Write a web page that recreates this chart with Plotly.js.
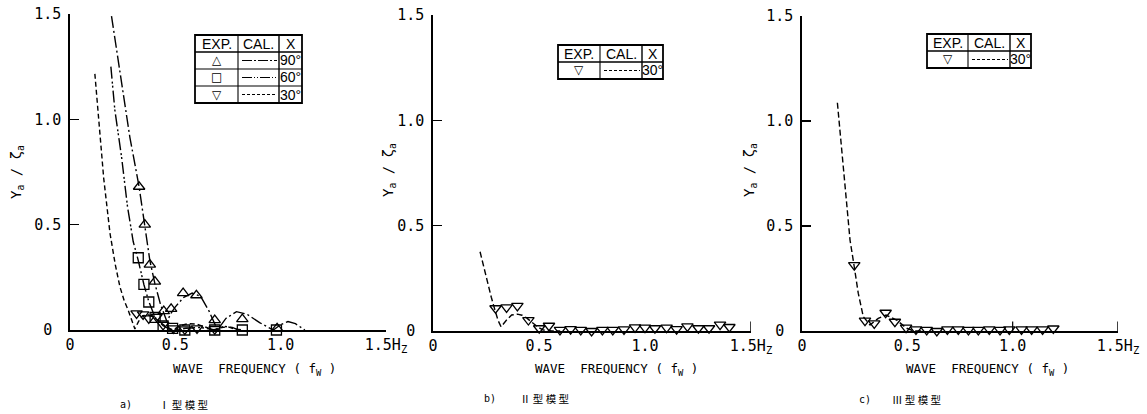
<!DOCTYPE html>
<html>
<head>
<meta charset="utf-8">
<script src="https://cdn.plot.ly/plotly-3.0.1.min.js"></script>
<style>
  html, body { margin: 0; padding: 0; background: #fff; }
  #chart { width: 1147px; height: 414px; }
</style>
</head>
<body>
<div id="chart"></div>
<script>
// ---- Type I model: measured response for three heading angles ----
const expA90X = [0.328, 0.355, 0.379, 0.403, 0.445, 0.480, 0.537, 0.600, 0.687, 0.818, 0.983];
const expA90Y = [0.68, 0.50, 0.31, 0.23, 0.09, 0.10, 0.175, 0.165, 0.047, 0.052, 0.008];
const expA60X = [0.324, 0.351, 0.374, 0.404, 0.442, 0.487, 0.545, 0.687, 0.818, 0.980];
const expA60Y = [0.343, 0.217, 0.133, 0.06, 0.019, 0.008, 0.0, 0.0, 0.0, 0.0];
const expA30X = [0.316, 0.347, 0.374, 0.411, 0.442, 0.490, 0.545, 0.603, 0.687];
const expA30Y = [0.079, 0.074, 0.055, 0.063, 0.024, 0.008, 0.003, 0.008, 0.004];

// ---- Type I model: calculated curves ----
const calA90X = [0.197, 0.225, 0.253, 0.284, 0.328, 0.355, 0.379, 0.403, 0.43, 0.46, 0.48, 0.50, 0.54, 0.58, 0.62, 0.66, 0.70, 0.74, 0.79, 0.84, 0.90, 0.965, 1.0, 1.035, 1.07, 1.115];
const calA90Y = [1.49, 1.30, 1.106, 0.916, 0.68, 0.50, 0.33, 0.22, 0.12, 0.04, 0.08, 0.11, 0.155, 0.175, 0.16, 0.09, 0.0, 0.055, 0.087, 0.075, 0.035, 0.0, 0.025, 0.04, 0.03, 0.0];
const calA60X = [0.194, 0.213, 0.245, 0.273, 0.300, 0.324, 0.351, 0.374, 0.404, 0.442, 0.47, 0.50, 0.55, 0.62, 0.69, 0.73, 0.77, 0.80];
const calA60Y = [1.25, 1.043, 0.82, 0.585, 0.42, 0.33, 0.215, 0.135, 0.06, 0.02, 0.005, 0.0, 0.008, 0.012, 0.0, 0.018, 0.012, 0.0];
const calA30X = [0.118, 0.13, 0.142, 0.16, 0.19, 0.215, 0.237, 0.257, 0.276, 0.293, 0.308, 0.325, 0.345, 0.37, 0.40, 0.43, 0.46, 0.49, 0.52, 0.56, 0.60, 0.64, 0.68, 0.72, 0.75, 0.78, 0.82];
const calA30Y = [1.216, 1.08, 0.932, 0.72, 0.458, 0.31, 0.205, 0.14, 0.095, 0.045, 0.005, 0.04, 0.068, 0.072, 0.06, 0.035, 0.012, 0.0, 0.02, 0.03, 0.028, 0.015, 0.0, 0.012, 0.015, 0.005, 0.0];

// ---- Type II model (30 deg) ----
const expBX = [0.295, 0.347, 0.398, 0.45, 0.501, 0.547, 0.599, 0.649, 0.697, 0.748, 0.799, 0.848, 0.901, 0.953, 1.0, 1.047, 1.102, 1.149, 1.2, 1.252, 1.302, 1.354, 1.398];
const expBY = [0.108, 0.112, 0.119, 0.052, 0.013, 0.025, 0.005, 0.009, 0.005, 0.0, 0.005, 0.005, 0.008, 0.017, 0.016, 0.013, 0.016, 0.009, 0.022, 0.013, 0.013, 0.03, 0.019];
const calBX = [0.222, 0.253, 0.275, 0.292, 0.307, 0.321, 0.345, 0.371, 0.398, 0.42, 0.442, 0.462, 0.481, 0.50, 0.52, 0.56, 0.60];
const calBY = [0.376, 0.242, 0.16, 0.1, 0.05, 0.02, 0.05, 0.076, 0.08, 0.075, 0.062, 0.045, 0.028, 0.015, 0.005, 0.0, 0.0];

// ---- Type III model (30 deg) ----
const expCX = [0.248, 0.299, 0.343, 0.397, 0.441, 0.494, 0.541, 0.592, 0.64, 0.69, 0.742, 0.79, 0.837, 0.889, 0.94, 0.984, 1.042, 1.09, 1.142, 1.193];
const expCY = [0.314, 0.049, 0.036, 0.087, 0.044, 0.016, 0.008, 0.005, 0.0, 0.008, 0.008, 0.005, 0.005, 0.008, 0.005, 0.008, 0.008, 0.008, 0.008, 0.012];
const calCX = [0.168, 0.188, 0.209, 0.228, 0.248, 0.267, 0.291, 0.323, 0.362, 0.399, 0.449, 0.497, 0.53, 0.58];
const calCY = [1.087, 0.862, 0.624, 0.433, 0.306, 0.18, 0.068, 0.029, 0.06, 0.076, 0.052, 0.013, 0.0, 0.0];

// ---- Tick labels and texts ----
const xTickVals = [0, 0.5, 1.0, 1.5];
const xTickText = ['0', '0.5', '1.0', '1.5H<sub>Z</sub>'];
const yTickVals = [0, 0.5, 1.0, 1.5];
const yTickText = ['0\u00a0', '0.5', '1.0', '1.5'];
const angleLabels = ['90°', '60°', '30°'];
const captions = [
  ['a)', 'Ⅰ\u00a0型\u00a0模\u00a0型'],
  ['b)', 'Ⅱ\u00a0型\u00a0模\u00a0型'],
  ['c)', 'Ⅲ\u00a0型\u00a0模\u00a0型']
];

const DASH90 = '12px,3px,2px,3px';
const DASH60 = '12px,3px,2px,2px,2px,3px';
const DASH30 = '5px,3px';

const W = 1147, H = 414;
const MONO = 'DejaVu Sans Mono, monospace';
const SANS = 'Liberation Sans, Arial, sans-serif';

function pts(x, y, symbol, xa, ya) {
  return {
    type: 'scatter', mode: 'markers', x: x, y: y, xaxis: xa, yaxis: ya,
    cliponaxis: false, hoverinfo: 'skip',
    marker: { symbol: symbol, size: 10, color: '#000', line: { width: 1.3, color: '#000' } }
  };
}
function curve(x, y, dash, xa, ya) {
  return {
    type: 'scatter', mode: 'lines', x: x, y: y, xaxis: xa, yaxis: ya,
    hoverinfo: 'skip', line: { color: '#000', width: 1.4, dash: dash }
  };
}

const data = [
  curve(calA90X, calA90Y, DASH90, 'x', 'y'),
  curve(calA60X, calA60Y, DASH60, 'x', 'y'),
  curve(calA30X, calA30Y, DASH30, 'x', 'y'),
  pts(expA90X, expA90Y, 'triangle-up-open', 'x', 'y'),
  pts(expA60X, expA60Y, 'square-open', 'x', 'y'),
  pts(expA30X, expA30Y, 'triangle-down-open', 'x', 'y'),
  curve(calBX, calBY, '6px,3px', 'x2', 'y2'),
  pts(expBX, expBY, 'triangle-down-open', 'x2', 'y2'),
  curve(calCX, calCY, '6px,3px', 'x3', 'y3'),
  pts(expCX, expCY, 'triangle-down-open', 'x3', 'y3')
];

function xAxis(domainPx, anchor) {
  return {
    domain: [domainPx[0] / W, domainPx[1] / W], anchor: anchor, range: [0, 1.5],
    showline: true, linecolor: '#000', linewidth: 1.6, mirror: false,
    showgrid: false, zeroline: false, ticks: '',
    tickmode: 'array', tickvals: xTickVals, ticktext: xTickText,
    tickfont: { family: MONO, size: 15, color: '#000' }, fixedrange: true
  };
}
function yAxis(topPx, botPx, anchor) {
  return {
    domain: [1 - botPx / H, 1 - topPx / H], anchor: anchor, range: [0, 1.5],
    showline: true, linecolor: '#000', linewidth: 1.6, mirror: false,
    showgrid: false, zeroline: false, ticks: 'inside', ticklen: 9, tickwidth: 1.5, tickcolor: '#000',
    tickmode: 'array', tickvals: yTickVals, ticktext: yTickText,
    ticklabelstandoff: 4,
    tickfont: { family: MONO, size: 15, color: '#000' }, fixedrange: true
  };
}

const shapes = [];
const annotations = [];
const fx = p => p / W;
const fy = p => 1 - p / H;

function pline(xa, ya, xb, yb, w, dash) {
  shapes.push({ type: 'line', xref: 'paper', yref: 'paper',
    x0: fx(xa), y0: fy(ya), x1: fx(xb), y1: fy(yb),
    line: { color: '#000', width: w, dash: dash || 'solid' } });
}
function label(text, x, y, opts) {
  annotations.push(Object.assign({
    xref: 'paper', yref: 'paper', x: fx(x), y: fy(y), text: text, showarrow: false,
    xanchor: 'center', yanchor: 'middle',
    font: { family: SANS, size: 14, color: '#000' }
  }, opts || {}));
}

// Key table: EXP. symbol | CAL. line style | heading angle
function keyTable(cols, rows, entries) {
  const [x0, c1, c2, x1] = cols;
  const top = rows[0], bot = rows[rows.length - 1];
  shapes.push({ type: 'rect', xref: 'paper', yref: 'paper',
    x0: fx(x0), x1: fx(x1), y0: fy(bot), y1: fy(top),
    line: { color: '#000', width: 1.8 }, fillcolor: 'rgba(0,0,0,0)' });
  for (let i = 1; i < rows.length - 1; i++) pline(x0, rows[i], x1, rows[i], i === 1 ? 1.5 : 1.1);
  pline(c1, top, c1, bot, 1.1);
  pline(c2, top, c2, bot, 1.4);
  const hy = (rows[0] + rows[1]) / 2;
  label('EXP.', (x0 + c1) / 2, hy);
  label('CAL.', (c1 + c2) / 2, hy);
  label('X', (c2 + x1) / 2, hy);
  entries.forEach((e, i) => {
    const cy = (rows[i + 1] + rows[i + 2]) / 2;
    label(e.glyph, (x0 + c1) / 2, cy, { font: { family: 'DejaVu Sans', size: 12, color: '#000' } });
    pline(c1 + 4, cy, c2 - 2, cy, 1.2, e.dash);
    label(e.angle, (c2 + x1) / 2, cy, { font: { family: SANS, size: 14, color: '#000' } });
  });
}

keyTable([195, 238, 279, 302], [35, 52, 69, 86, 103], [
  { glyph: '△', dash: '10px,2px,2px,2px', angle: angleLabels[0] },
  { glyph: '□', dash: '10px,2px,1px,2px,1px,2px', angle: angleLabels[1] },
  { glyph: '▽', dash: '3px,2px', angle: angleLabels[2] }
]);
keyTable([558, 600, 642, 663], [45, 62, 79], [
  { glyph: '▽', dash: '3px,2px', angle: angleLabels[2] }
]);
keyTable([927, 968, 1010, 1031], [34, 51, 68], [
  { glyph: '▽', dash: '3px,2px', angle: angleLabels[2] }
]);

// Axis titles
const yTitle = 'Y<sub>a</sub> / ζ<sub>a</sub>';
const xTitle = 'WAVE\u00a0\u00a0FREQUENCY\u00a0(\u00a0f<sub>W</sub>\u00a0)';
[[17, 172], [389, 170], [750, 170]].forEach(p => {
  label(yTitle, p[0], p[1], { textangle: -90, font: { family: MONO, size: 14, color: '#000' } });
});
[[254, 369], [616, 369], [987, 369]].forEach(p => {
  label(xTitle, p[0], p[1], { font: { family: MONO, size: 12.5, color: '#000' } });
});

// Panel captions
const capPos = [[118, 157, 404], [482, 518, 398], [857, 890, 399]];
captions.forEach((c, i) => {
  const [xl, xr, y] = capPos[i];
  label(c[0], xl, y, { xanchor: 'left', font: { family: MONO, size: 10, color: '#000' } });
  label(c[1], xr, y, { xanchor: 'left', font: { family: 'Noto Sans CJK JP', size: 10.5, color: '#000' } });
});

// Short upward ticks at the ends of the frequency axes
shapes.push({ type: 'line', xref: 'x2', yref: 'y2', x0: 1.5, x1: 1.5, y0: 0, y1: 0.045, line: { color: '#000', width: 1.5 } });
shapes.push({ type: 'line', xref: 'x3', yref: 'y3', x0: 1.5, x1: 1.5, y0: 0, y1: 0.045, line: { color: '#000', width: 1.5 } });
shapes.push({ type: 'line', xref: 'x3', yref: 'y3', x0: 1.0, x1: 1.0, y0: 0, y1: 0.045, line: { color: '#000', width: 1.2 } });

const layout = {
  width: W, height: H,
  margin: { l: 0, r: 0, t: 0, b: 0 },
  paper_bgcolor: '#fff', plot_bgcolor: 'rgba(0,0,0,0)',
  showlegend: false,
  xaxis: xAxis([70, 386], 'y'),
  yaxis: yAxis(14, 330, 'x'),
  xaxis2: xAxis([433, 751], 'y2'),
  yaxis2: yAxis(15, 331, 'x2'),
  xaxis3: xAxis([802, 1118], 'y3'),
  yaxis3: yAxis(16, 331, 'x3'),
  shapes: shapes,
  annotations: annotations
};

Plotly.newPlot('chart', data, layout, { staticPlot: true, displayModeBar: false });
</script>
</body>
</html>
